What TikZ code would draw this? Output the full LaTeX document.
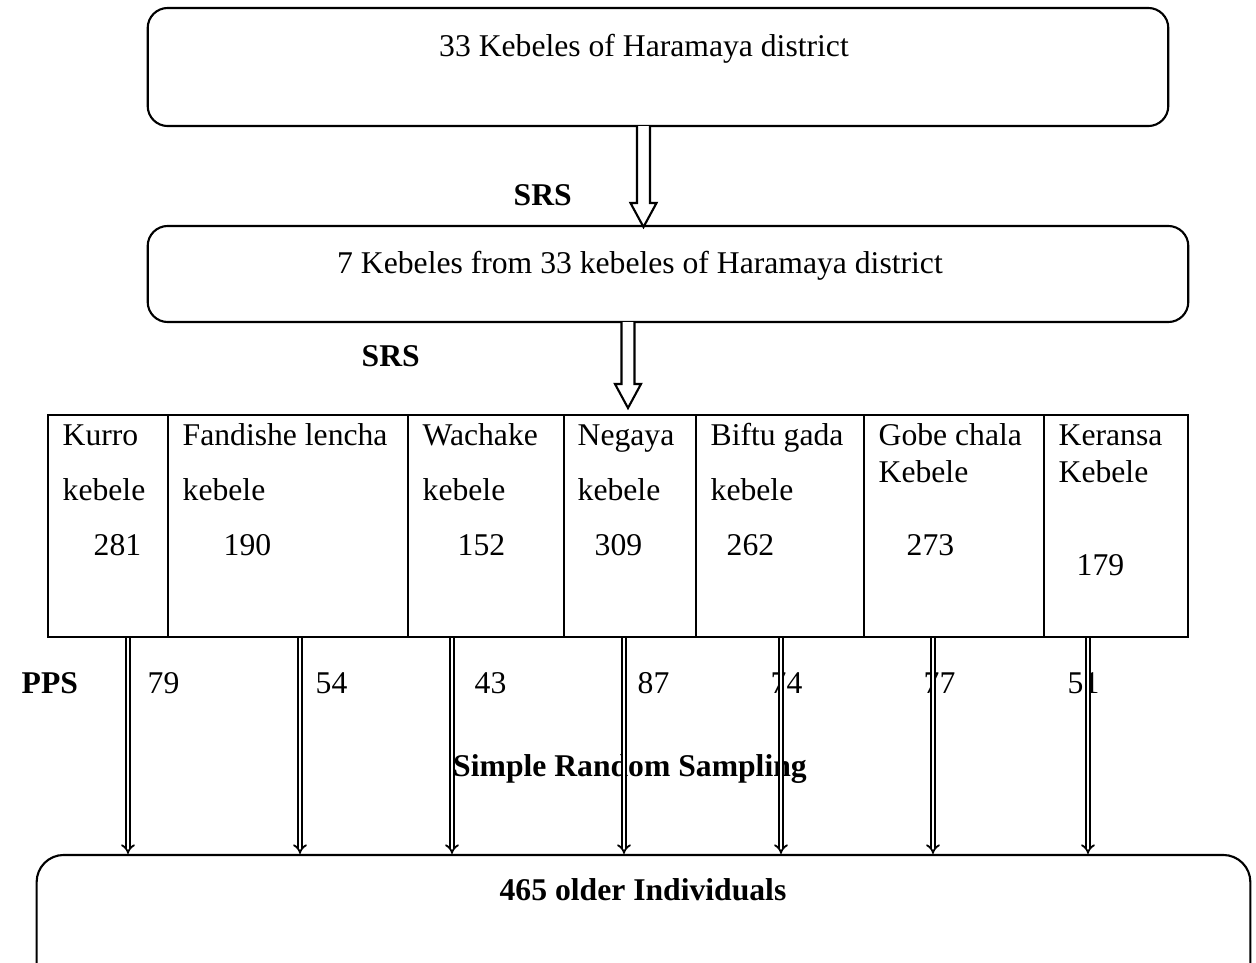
\documentclass[tikz,border=0pt]{standalone}
\usepackage{fontspec}
\setmainfont{Liberation Serif}
\usetikzlibrary{arrows.meta,calc}

\tikzset{
  box/.style={draw, line width=0.6pt, rounded corners=5.7pt, inner sep=0pt},
  cell/.style={draw, line width=0.6pt, anchor=north west, inner sep=0pt, minimum height=2.22cm},
  txt/.style={anchor=base west, inner sep=0pt},
  hollow/.style={draw, line width=0.6pt, line join=miter, fill=white},
  dbl/.style={double, line width=0.5pt, double distance=0.8pt, -{Implies}},
}

\begin{document}
\begin{tikzpicture}[x=0.01cm, y=-0.01cm, font=\fontsize{9}{11}\selectfont]
    \useasboundingbox (0,0) rectangle (1256,963);
    \clip (0,0) rectangle (1256,963);

    % caixas
    \node[box, minimum width=10.2cm, minimum height=1.18cm] (kdist) at (658,67) {};
    \node[txt, anchor=base] (kdistT) at (644,56) {33 Kebeles of Haramaya district};

    \node[box, minimum width=10.4cm, minimum height=0.96cm] (ksel) at (668,274) {};
    \node[txt, anchor=base] (kselT) at (640,273) {7 Kebeles from 33 kebeles of Haramaya district};

    \node[box, rounded corners=7.7pt, minimum width=12.13cm, minimum height=1.45cm] (older) at (643.5,927.5) {};
    \node[txt, anchor=base, font=\fontsize{9}{11}\selectfont\bfseries] (olderT) at (643,900) {465 older Individuals};

    % setas vazadas
    \coordinate (s1) at (643.5,126);
    \coordinate (e1) at (643.5,227);
    \draw[hollow] ($(s1)+(-6.5,0)$) -- ($(e1)+(-6.5,-24)$) -- ($(e1)+(-13,-24)$) -- (e1)
        -- ($(e1)+(13,-24)$) -- ($(e1)+(6.5,-24)$) -- ($(s1)+(6.5,0)$);
    \coordinate (s2) at (628,322);
    \coordinate (e2) at (628,408);
    \draw[hollow] ($(s2)+(-6.5,0)$) -- ($(e2)+(-6.5,-24)$) -- ($(e2)+(-13,-24)$) -- (e2)
        -- ($(e2)+(13,-24)$) -- ($(e2)+(6.5,-24)$) -- ($(s2)+(6.5,0)$);

    \node[txt, font=\fontsize{9}{11}\selectfont\bfseries] (srs1) at (513,205) {SRS};
    \node[txt, font=\fontsize{9}{11}\selectfont\bfseries] (srs2) at (361,366) {SRS};

    % tabela
    \node[cell, minimum width=1.197cm] (c1) at (47,414) {};
    \node[cell, minimum width=2.403cm] (c2) at (166.7,414) {};
    \node[cell, minimum width=1.56cm]  (c3) at (407,414) {};
    \node[cell, minimum width=1.32cm]  (c4) at (563,414) {};
    \node[cell, minimum width=1.68cm]  (c5) at (695,414) {};
    \node[cell, minimum width=1.80cm]  (c6) at (863,414) {};
    \node[cell, minimum width=1.44cm]  (c7) at (1043,414) {};

    \node[txt] (k1a) at (62,445) {Kurro};
    \node[txt] (k1b) at (62,500) {kebele};
    \node[txt] (k1n) at (93,555) {281};
    \node[txt] (k2a) at (182,445) {Fandishe lencha};
    \node[txt] (k2b) at (182,500) {kebele};
    \node[txt] (k2n) at (223,555) {190};
    \node[txt] (k3a) at (422,445) {Wachake};
    \node[txt] (k3b) at (422,500) {kebele};
    \node[txt] (k3n) at (457,555) {152};
    \node[txt] (k4a) at (577,445) {Negaya};
    \node[txt] (k4b) at (577,500) {kebele};
    \node[txt] (k4n) at (594,555) {309};
    \node[txt] (k5a) at (710,445) {Biftu gada};
    \node[txt] (k5b) at (710,500) {kebele};
    \node[txt] (k5n) at (726,555) {262};
    \node[txt] (k6a) at (878,445) {Gobe chala};
    \node[txt] (k6b) at (878,482) {Kebele};
    \node[txt] (k6n) at (906,555) {273};
    \node[txt] (k7a) at (1058,445) {Keransa};
    \node[txt] (k7b) at (1058,482) {Kebele};
    \node[txt] (k7n) at (1076,575) {179};

    % PPS
    \node[txt, font=\fontsize{9}{11}\selectfont\bfseries] (pps) at (21,693) {PPS};
    \node[txt] (n1) at (147,693) {79};
    \node[txt] (n2) at (315,693) {54};
    \node[txt] (n3) at (474,693) {43};
    \node[txt] (n4) at (637,693) {87};
    \node[txt] (n5) at (770,693) {74};
    \node[txt] (n6) at (923,693) {77};
    \node[txt] (n7) at (1067,693) {51};

    \node[txt, anchor=base, font=\fontsize{9}{11}\selectfont\bfseries] (srsamp) at (630,776) {Simple Random Sampling};

    % setas duplas
    \coordinate (p1) at (128,638);
    \coordinate (p2) at (300,638);
    \coordinate (p3) at (452,638);
    \coordinate (p4) at (624,638);
    \coordinate (p5) at (781,638);
    \coordinate (p6) at (933,638);
    \coordinate (p7) at (1088,638);
    \draw[dbl] (p1) -- (p1 |- older.north);
    \draw[dbl] (p2) -- (p2 |- older.north);
    \draw[dbl] (p3) -- (p3 |- older.north);
    \draw[dbl] (p4) -- (p4 |- older.north);
    \draw[dbl] (p5) -- (p5 |- older.north);
    \draw[dbl] (p6) -- (p6 |- older.north);
    \draw[dbl] (p7) -- (p7 |- older.north);
\end{tikzpicture}
\end{document}
